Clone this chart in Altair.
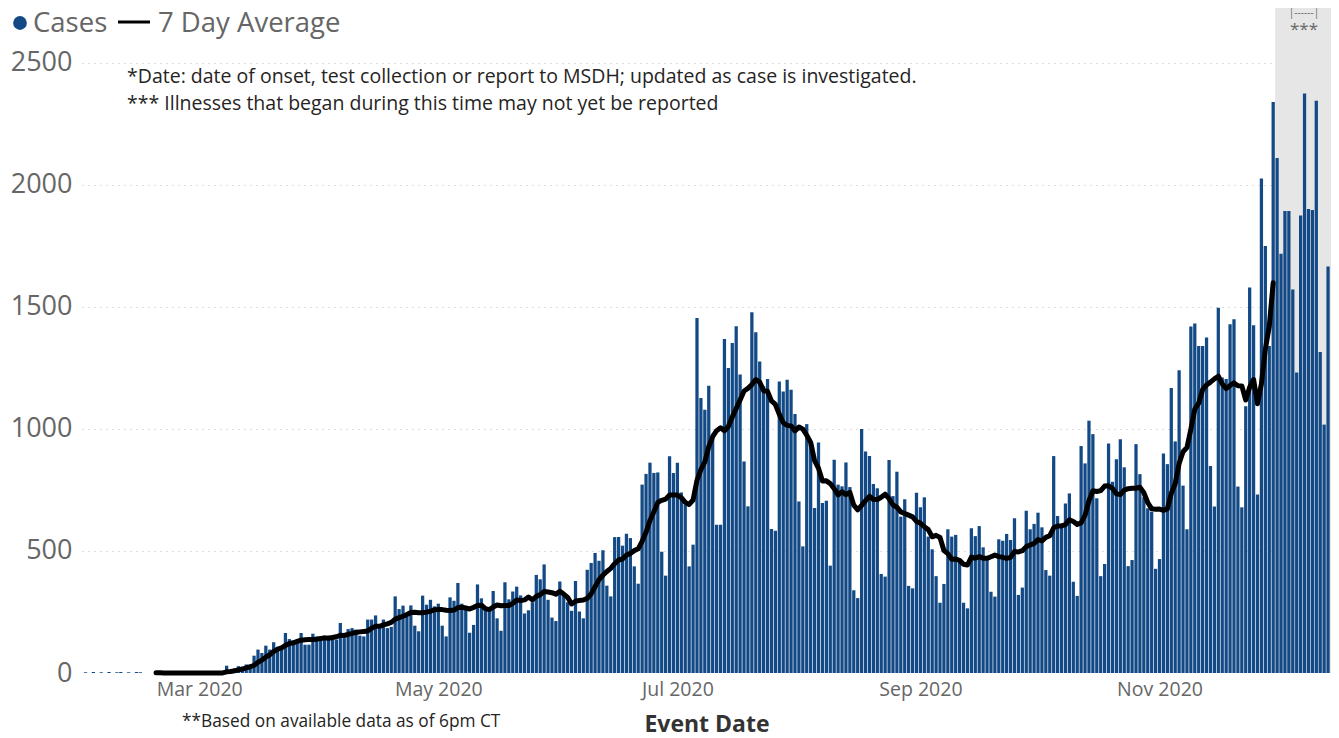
import altair as alt
import pandas as pd

# ---- daily case counts (2020) ----
FEB = [3, 0, 4, 0, 3, 0, 4, 0, 3, 4, 0, 3, 0, 4, 3, 0, 0, 0, 0, 0, 0, 0, 0, 0, 0, 0, 0, 0, 0]
MAR = [0, 0, 0, 0, 0, 1, 2, 30, 8, 20, 28, 25, 35, 33, 71, 96, 82, 112, 96, 126, 102,
       109, 164, 139, 130, 134, 164, 116, 116, 161, 150]
APR = [148, 153, 153, 137, 137, 205, 143, 180, 184, 178, 153, 150, 219, 219, 236, 184, 219,
       184, 189, 314, 262, 276, 232, 277, 194, 171, 317, 280, 300, 273]
MAY = [284, 194, 150, 310, 296, 369, 284, 262, 165, 197, 363, 306, 268, 258, 336, 224, 173,
       372, 302, 334, 354, 318, 244, 257, 290, 402, 384, 445, 300, 227, 213]
JUN = [375, 320, 290, 255, 377, 252, 224, 423, 451, 492, 460, 503, 358, 314, 557, 557, 522,
       571, 553, 437, 366, 772, 816, 862, 820, 822, 497, 399, 888, 820]
JUL = [862, 740, 690, 437, 526, 1455, 1127, 1079, 1177, 980, 608, 608, 1369, 1250, 1352,
       1421, 1223, 867, 683, 1478, 1396, 1277, 1175, 1205, 590, 583, 1195, 1154, 1202,
       1161, 1061]
AUG = [703, 519, 1020, 950, 676, 945, 697, 706, 440, 874, 772, 765, 863, 762, 339, 307,
       1000, 908, 889, 775, 757, 406, 395, 873, 725, 825, 641, 712, 357, 347, 739]
SEP = [679, 720, 559, 507, 397, 288, 365, 589, 559, 566, 466, 288, 265, 593, 561, 602, 515,
       466, 333, 313, 548, 542, 570, 545, 634, 320, 350, 665, 589, 611]
OCT = [657, 597, 422, 399, 889, 643, 611, 695, 736, 374, 316, 930, 859, 1034, 979, 716, 397,
       447, 941, 784, 876, 958, 843, 438, 463, 938, 815, 720, 675, 661, 427]
NOV = [467, 900, 856, 1168, 949, 1241, 768, 589, 1420, 1432, 1340, 1340, 1375, 848, 682,
       1497, 1211, 1205, 1429, 1450, 764, 679, 1093, 1580, 1425, 732, 2027, 1750, 1340, 2340]
DEC = [2111, 1718, 1893, 1893, 1572, 1232, 1875, 2375, 1902, 1898, 2345, 1316, 1018, 1666]

FIRST_DATE = "2020-02-01"
Y_TICKS = [0, 500, 1000, 1500, 2000, 2500]
X_LABEL_MONTHS = [3, 5, 7, 9, 11]

LEGEND_CASES = "Cases"
LEGEND_AVG = "7 Day Average"
NOTE_1 = "*Date: date of onset, test collection or report to MSDH; updated as case is investigated."
NOTE_2 = "*** Illnesses that began during this time may not yet be reported"
NOTE_3 = "**Based on available data as of 6pm CT"
BRACKET = "|------|"
STARS = "***"
X_TITLE = "Event Date"

# ---- table ----
cases = FEB + MAR + APR + MAY + JUN + JUL + AUG + SEP + OCT + NOV + DEC
dates = pd.date_range(FIRST_DATE, periods=len(cases), freq="D")
fmt = "%Y-%m-%dT%H:%M:%S"
df = pd.DataFrame({
    "date": dates.strftime(fmt),
    "x0": (dates - pd.Timedelta(hours=10)).strftime(fmt),
    "x1": (dates + pd.Timedelta(hours=10)).strftime(fmt),
    "cases": cases,
})
shade = pd.DataFrame({"s": ["2020-11-30T12:00:00"], "e": ["2020-12-14T18:00:00"]})

BLUE = "#134a86"
FONT = "Open Sans"
W, H = 1249, 665

xscale = alt.Scale(domain=[alt.DateTime(year=2020, month=1, date=31, hours=2, minutes=24),
                           alt.DateTime(year=2020, month=12, date=14, hours=18)])
yscale = alt.Scale(domain=[0, 2725.4], nice=False, zero=True)

xaxis = alt.Axis(values=[alt.DateTime(year=2020, month=m, date=1) for m in X_LABEL_MONTHS],
                 format="%b %Y", labelFontSize=19.5, labelColor="#666666", labelFont=FONT,
                 ticks=False, domain=False, grid=False, labelPadding=7,
                 title=X_TITLE, titleFontSize=23, titleFontWeight="bold", titleColor="#333333",
                 titleFont=FONT, titlePadding=15, labelFlush=False)
yaxis = alt.Axis(values=Y_TICKS, format="d", labelFontSize=27, labelColor="#666666", labelFont=FONT,
                 ticks=False, domain=False, labelPadding=10, title=None,
                 grid=True, gridDash=[1, 5], gridWidth=1,
                 gridColor=alt.condition("datum.value == 0", alt.value("transparent"), alt.value("#bcbcbc")))

base = alt.Chart(df)

shade_layer = alt.Chart(shade).mark_rect(color="#e6e6e6").encode(
    x=alt.X("s:T", scale=xscale, axis=xaxis),
    x2="e:T",
    y=alt.value(0),
    y2=alt.value(H),
)

bars = base.mark_bar(color=BLUE).encode(
    x=alt.X("x0:T", scale=xscale, axis=xaxis),
    x2="x1:T",
    y=alt.Y("cases:Q", scale=yscale, axis=yaxis),
    y2=alt.datum(0),
)

line = base.transform_window(
    avg="mean(cases)", frame=[-6, 0], sort=[alt.SortField("date")]
).transform_filter(
    alt.FieldRangePredicate(field="date", range=[
        alt.DateTime(year=2020, month=2, date=19),
        alt.DateTime(year=2020, month=11, date=30)])
).mark_line(color="black", strokeWidth=5, strokeJoin="round", strokeCap="round").encode(
    x=alt.X("date:T", scale=xscale, axis=xaxis),
    y=alt.Y("avg:Q", scale=yscale, axis=yaxis),
)


def txt(text, x, y, size, color, weight="normal", align="left", baseline="middle"):
    return alt.Chart(alt.Data(values=[{"t": text}])).mark_text(
        align=align, baseline=baseline, fontSize=size, color=color, font=FONT, fontWeight=weight
    ).encode(x=alt.value(x), y=alt.value(y), text="t:N")


L, T = 82, 8  # plot origin on the page
legend_dot = alt.Chart(alt.Data(values=[{"t": 1}])).mark_point(
    filled=True, shape="circle", size=190, color=BLUE, opacity=1
).encode(x=alt.value(20 - L), y=alt.value(23 - T))
legend_line = alt.Chart(alt.Data(values=[{"t": 1}])).mark_rule(
    color="black", strokeWidth=3
).encode(x=alt.value(118 - L), x2=alt.value(150 - L), y=alt.value(22 - T))

layers = [
    shade_layer, bars, line,
    legend_dot, legend_line,
    txt(LEGEND_CASES, 33 - L, 32 - T, 27.5, "#666666", baseline="alphabetic"),
    txt(LEGEND_AVG, 158 - L, 32 - T, 27.5, "#666666", baseline="alphabetic"),
    txt(NOTE_1, 127 - L, 77 - T, 19.5, "#252423"),
    txt(NOTE_2, 127 - L, 104 - T, 19.5, "#252423"),
    txt(NOTE_3, 182 - L, 722 - T, 17.3, "#252423"),
    txt(BRACKET, 1304 - L, 0, 10, "#666666", align="center", baseline="top"),
    txt(STARS, 1304 - L, 30 - T, 17, "#666666", align="center"),
]

chart = alt.layer(*layers).properties(
    width=W, height=H,
    autosize=alt.AutoSizeParams(type="none"),
    padding={"left": 74, "top": 0, "right": 0, "bottom": 65},
    background="white",
).configure_view(stroke=None)

chart.save("out.html", embed_options={"renderer": "svg", "actions": False})
